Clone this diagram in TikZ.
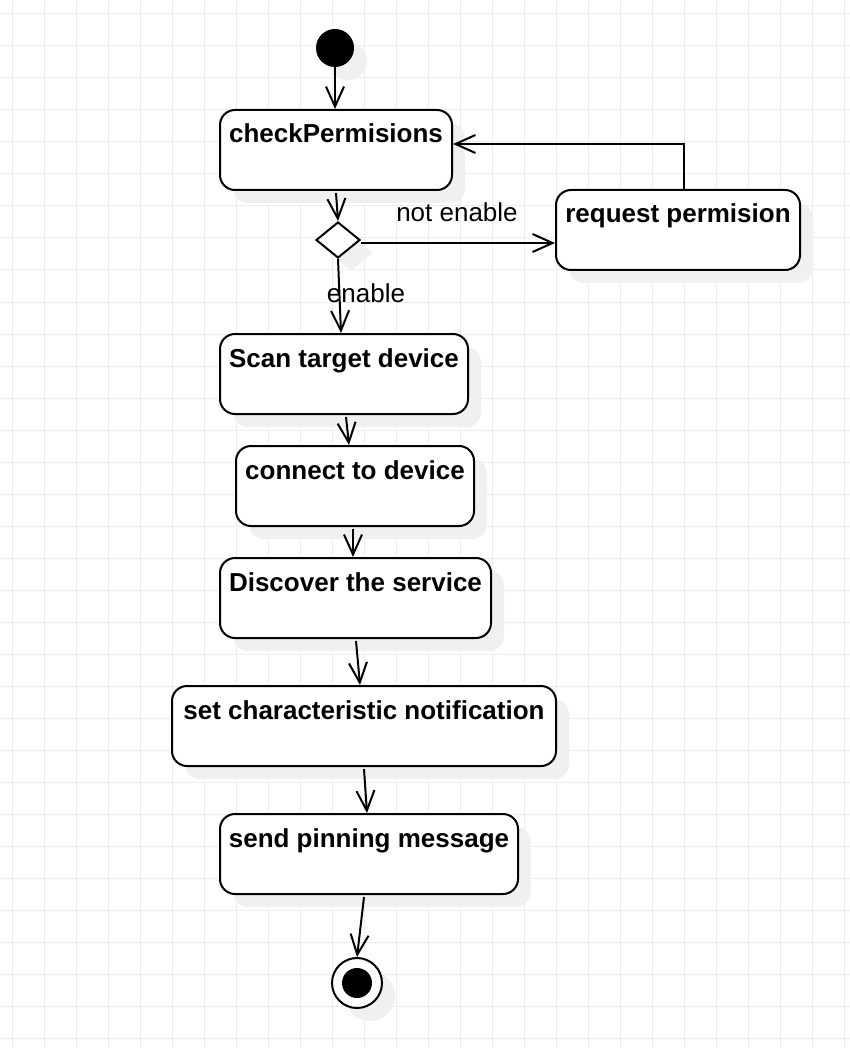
\documentclass[tikz,border=0pt]{standalone}
\usepackage{fontspec}
\setmainfont{Liberation Sans}
\usetikzlibrary{arrows.meta,shapes.geometric,shadows,calc}
\definecolor{gridc}{RGB}{237,237,237}
\definecolor{shadowc}{RGB}{240,240,240}
\begin{document}
\begin{tikzpicture}[x=1pt,y=-1pt,
  shd/.style={drop shadow={shadow xshift=13pt,shadow yshift=-13pt,opacity=1,fill=shadowc}},
  actbox/.style={draw,line width=2pt,rounded corners=15pt,fill=white,minimum height=80pt,inner sep=0pt,shd},
  acttext/.style={anchor=base,inner sep=0pt,font=\fontsize{26}{30}\selectfont\bfseries},
  lbl/.style={anchor=base,inner sep=0pt,font=\fontsize{26}{30}\selectfont},
  flow/.style={line width=2pt,-{Straight Barb[length=20pt,width=18pt]}},
  plain/.style={line width=2pt}
]
\useasboundingbox (0,0) rectangle (850,1048);
\fill[white] (0,0) rectangle (850,1048);
% grid
\foreach \gx in {12,44,...,844} \draw[gridc,line width=1pt] (\gx,0) -- (\gx,1048);
\foreach \gy in {14,46,...,1040} \draw[gridc,line width=1pt] (0,\gy) -- (850,\gy);

% start
\node[circle,fill=black,minimum size=38pt,inner sep=0pt,shd] (start) at (335,48) {};

% activities
\node[actbox,minimum width=232pt] (check) at (336,150) {};
\node[acttext] (checkt) at ($(check.north)+(0,34)$) {checkPermisions};

\node[diamond,draw,line width=2pt,fill=white,minimum width=44pt,minimum height=36pt,inner sep=0pt,shd] (dia) at (338,240) {};

\node[actbox,minimum width=244pt] (req) at (678,230) {};
\node[acttext] (reqt) at ($(req.north)+(0,34)$) {request permision};

\node[actbox,minimum width=248pt] (scan) at (344,374) {};
\node[acttext] (scant) at ($(scan.north)+(0,34)$) {Scan target device};

\node[actbox,minimum width=238pt] (conn) at (355,486) {};
\node[acttext] (connt) at ($(conn.north)+(0,34)$) {connect to device};

\node[actbox,minimum width=271pt] (disc) at (355.5,598) {};
\node[acttext] (disct) at ($(disc.north)+(0,34)$) {Discover the service};

\node[actbox,minimum width=384pt] (setc) at (364,726) {};
\node[acttext] (setct) at ($(setc.north)+(0,34)$) {set characteristic notification};

\node[actbox,minimum width=298pt] (send) at (369,854) {};
\node[acttext] (sendt) at ($(send.north)+(0,34)$) {send pinning message};

% end
\node[circle,draw,line width=2pt,fill=white,minimum size=50pt,inner sep=0pt,shd] (end) at (357,983) {};
\node[circle,fill=black,minimum size=30pt,inner sep=0pt] (endin) at (end) {};

% connectors
\coordinate (dr) at ($(dia.east)+(0,3)$);
\coordinate (rq) at ($(req.north)+(6,0)$);
\coordinate (ce) at ($(check.east)+(0,-6)$);
\draw[flow] (start.south) -- (start.south |- check.north);
\draw[flow] ($(check.south)+(0,2)$) -- (dia.north);
\draw[flow] (dr) -- (dr -| req.west);
\draw[flow] (rq) |- (ce);
\draw[flow] (dia.south) -- ($(scan.north)+(-3,0)$);
\draw[flow] ($(scan.south)+(2,2)$) -- ($(conn.north)+(-6,0)$);
\draw[flow] ($(conn.south)+(-2,2)$) -- ($(disc.north)+(-2.5,0)$);
\draw[flow] ($(disc.south)+(0.5,2)$) -- ($(setc.north)+(-4,0)$);
\draw[flow] ($(setc.south)+(0,2)$) -- ($(send.north)+(-2,0)$);
\draw[flow] ($(send.south)+(-5,2)$) -- (end.north);

% labels
\node[lbl] (lnot) at (457,222) {not enable};
\node[lbl] (len) at (366,302) {enable};
\end{tikzpicture}
\end{document}
